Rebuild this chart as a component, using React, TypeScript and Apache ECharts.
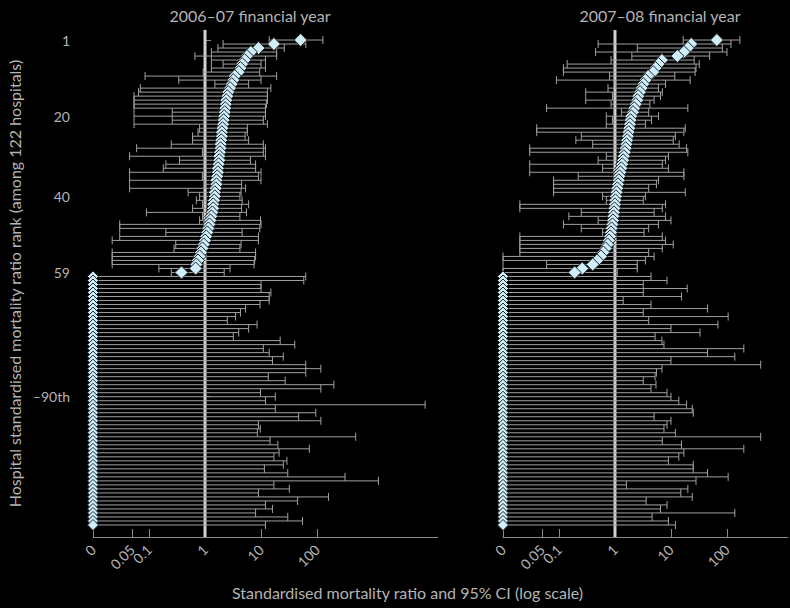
import * as echarts from "echarts";
import { useEffect, useRef } from "react";

// 2006-07 panel: ranks 1..59 have a positive SMR, the rest are 0
const smrL = [51, 17, 9, 6.6, 5.6, 5.1, 4.6, 4.3, 4.0, 3.4, 3.2, 3.0, 2.8, 2.6, 2.5, 2.4, 2.35, 2.3, 2.25, 2.2, 2.15, 2.1, 2.05, 2.0, 2.0, 1.95, 1.9, 1.9, 1.85, 1.8, 1.8, 1.75, 1.7, 1.7, 1.65, 1.6, 1.6, 1.55, 1.5, 1.5, 1.45, 1.4, 1.4, 1.35, 1.3, 1.25, 1.2, 1.15, 1.1, 1.05, 1.0, 0.95, 0.9, 0.85, 0.8, 0.75, 0.7, 0.68, 0.38];
const loL = [14, 2.1, 1.7, 1.3, 0.66, 1.3, 2.1, 1.3, 0.93, 0.085, 0.34, 1.5, 0.07, 0.065, 0.054, 0.054, 0.054, 0.054, 0.26, 0.054, 0.26, 0.054, 0.8, 0.75, 0.6, 0.6, 0.25, 0.06, 0.9, 0.045, 0.35, 0.2, 0.18, 0.045, 0.9, 0.045, 1.0, 0.045, 0.5, 0.8, 0.7, 0.9, 0.6, 0.09, 0.9, 0.8, 0.03, 0.03, 0.2, 0.03, 0.022, 0.3, 0.28, 0.022, 0.022, 0.022, 0.022, 0.15, 0.25];
const hiL = [127, 63, 26, 19, 19, 12, 10, 12, 9.5, 19, 10, 6, 15, 13, 13, 13, 12.5, 12, 12, 12, 11, 13, 5.7, 5.7, 5.2, 6, 11, 12, 11, 12, 6.5, 8, 8, 10, 9, 10, 4.5, 5.3, 4.4, 4.2, 4.6, 6, 4.5, 5.5, 4.2, 9.8, 10, 9.5, 4.6, 9, 9, 4.4, 4.2, 8, 8, 7.7, 7.5, 2.8, 2.2];
const hiL0 = [63, 58, 10, 10, 15, 14, 14, 9.6, 5.3, 4.3, 3.5, 2.5, 8.5, 6, 4, 3.2, 22, 40, 11, 14, 25, 16, 63, 117, 63, 13.5, 27, 200, 117, 9.8, 18, 12, 8500, 18, 95, 47, 117, 9, 9.7, 8.6, 490, 14.5, 20, 73, 21, 17, 29, 25, 11.5, 30, 316, 1250, 17, 32, 9, 160, 45, 12, 16, 8, 30, 55, 12];

// 2007-08 panel
const smrR = [66, 23, 20, 17, 13, 6.9, 6, 5.3, 4.8, 3.9, 3.5, 3.2, 3.0, 2.8, 2.6, 2.5, 2.35, 2.2, 2.1, 1.95, 1.9, 1.85, 1.8, 1.75, 1.7, 1.65, 1.6, 1.55, 1.5, 1.44, 1.4, 1.35, 1.3, 1.25, 1.2, 1.17, 1.13, 1.1, 1.07, 1.04, 1.02, 1.0, 0.98, 0.96, 0.94, 0.92, 0.9, 0.87, 0.85, 0.82, 0.78, 0.74, 0.68, 0.62, 0.56, 0.48, 0.4, 0.26, 0.19];
const loR = [16.5, 0.5, 2.5, 0.45, 2.0, 0.85, 0.14, 0.12, 0.12, 0.8, 0.09, 1.0, 0.75, 0.3, 0.9, 0.3, 0.85, 0.06, 1.3, 0.7, 0.9, 0.7, 0.04, 0.04, 0.25, 0.2, 0.4, 0.03, 0.03, 0.7, 0.5, 0.03, 0.6, 0.03, 0.22, 0.08, 0.08, 0.08, 0.08, 0.6, 0.7, 0.02, 0.02, 0.25, 0.15, 0.5, 0.12, 0.25, 0.6, 0.02, 0.02, 0.02, 0.02, 0.02, 0.01, 0.01, 0.06, 0.01, 0.01];
const hiR = [170, 118, 83, 100, 49, 26, 32, 28, 27, 11.7, 22, 8, 6, 7, 6.5, 5, 4.2, 20, 4, 6, 4.5, 3.5, 18, 17, 12, 11, 14, 19, 20, 9, 8, 7, 9, 17, 17, 6, 5.5, 4, 18, 3.5, 3.2, 8, 7, 5, 8, 10, 6, 4, 3.3, 7, 8, 11, 7, 4, 5, 3.5, 2.5, 2.5, 1.1];
const hiR0 = [4.4, 8.5, 3.2, 19.5, 3.2, 15.4, 1.4, 4.4, 45, 3.2, 105, 4, 69, 10, 33, 5.2, 6.9, 7.5, 200, 45, 138, 10, 400, 6.9, 5.5, 5.2, 3.2, 5.4, 4.4, 8.5, 10, 13.8, 19, 24, 25, 5, 10, 8.5, 7.5, 12, 400, 7, 15.4, 200, 17, 13.8, 9, 25, 25, 45, 105, 28, 1.6, 20, 15, 24, 3.6, 8.5, 6.5, 138, 4.6, 9, 12];

const rankTicks = [1, 20, 40, 59, 90];
const xTicks = [0, 0.05, 0.1, 1, 10, 100];
const titles = ["2006\u201307 financial year", "2007\u201308 financial year"];

const ZERO = 0.01; // where "0" sits on the log axis
const lg = (v: number) => Math.log10(Math.max(v, ZERO));
const FONT = "Lato";
const TXT = "#b4b4b4";

function panel(smr: number[], lo: number[], hi: number[], hi0: number[]) {
  const bars: number[][] = [];
  const pts: number[][] = [];
  const zeros: number[][] = [];
  smr.forEach((v, i) => {
    bars.push([lg(lo[i]), lg(hi[i]), i + 1]);
    pts.push([lg(v), i + 1]);
  });
  hi0.forEach((h, j) => {
    const r = smr.length + j + 1;
    bars.push([lg(0), lg(h), r]);
    zeros.push([lg(0), r]);
  });
  return { bars, pts, zeros };
}

function renderBar(params: any, api: any) {
  const r = api.value(2);
  const a = api.coord([api.value(0), r]);
  const b = api.coord([api.value(1), r]);
  const st = { stroke: "#a0a0a0", lineWidth: 1 };
  return {
    type: "group",
    children: [
      { type: "line", shape: { x1: a[0], y1: a[1], x2: b[0], y2: b[1] }, style: st },
      { type: "line", shape: { x1: a[0], y1: a[1] - 4, x2: a[0], y2: a[1] + 4 }, style: st },
      { type: "line", shape: { x1: b[0], y1: b[1] - 4, x2: b[0], y2: b[1] + 4 }, style: st },
    ],
  };
}

export default function App() {
  const ref = useRef<HTMLDivElement>(null);
  useEffect(() => {
    const chart = echarts.init(ref.current, null, { renderer: "svg" });
    const panels = [panel(smrL, loL, hiL, hiL0), panel(smrR, loR, hiR, hiR0)];
    const xMax = [4.16, 3.09];
    const series: any[] = [];
    panels.forEach((p, k) => {
      series.push({
        type: "line",
        xAxisIndex: k,
        yAxisIndex: k,
        data: [[0, -1.5], [0, 125]],
        symbol: "none",
        lineStyle: { color: "#d0d0d0", width: 3 },
        z: 1,
      });
      series.push({
        type: "custom",
        xAxisIndex: k,
        yAxisIndex: k,
        data: p.bars,
        renderItem: renderBar,
        z: 2,
      });
      series.push({
        type: "scatter",
        xAxisIndex: k,
        yAxisIndex: k,
        data: p.zeros,
        symbol: "diamond",
        symbolSize: 11,
        itemStyle: { color: "#cdeefa", borderColor: "#222", borderWidth: 1, opacity: 1 },
        z: 3,
      });
      series.push({
        type: "scatter",
        xAxisIndex: k,
        yAxisIndex: k,
        data: p.pts,
        symbol: "diamond",
        symbolSize: 13,
        itemStyle: { color: "#cdeefa", borderColor: "#222", borderWidth: 1, opacity: 1 },
        z: 4,
      });
    });

    chart.setOption({
      animation: false,
      backgroundColor: "#000",
      textStyle: { fontFamily: FONT },
      grid: [
        { left: 93, width: 345, top: 30, bottom: 71 },
        { left: 503, width: 285, top: 30, bottom: 71 },
      ],
      title: titles.map((t, k) => ({
        text: t,
        left: k === 0 ? 245 : 655,
        textAlign: "center",
        top: 2,
        textStyle: { color: TXT, fontSize: 16, fontWeight: "normal", fontFamily: FONT },
      })),
      xAxis: [0, 1].map((k) => ({
        type: "value",
        gridIndex: k,
        min: -2,
        max: xMax[k],
        splitLine: { show: false },
        axisLine: { onZero: false, lineStyle: { color: "#8a8a8a" } },
        axisTick: {
          inside: true,
          length: 8,
          lineStyle: { color: "#8a8a8a" },
          customValues: xTicks.map(lg),
        },
        axisLabel: {
          customValues: xTicks.map(lg),
          rotate: 45,
          color: TXT,
          fontSize: 14,
          margin: 10,
          formatter: (v: number) => {
            const i = xTicks.map(lg).findIndex((t) => Math.abs(t - v) < 1e-6);
            return i < 0 ? "" : String(xTicks[i]);
          },
        },
      })),
      yAxis: [0, 1].map((k) => ({
        type: "value",
        gridIndex: k,
        inverse: true,
        min: -1.5,
        max: 125,
        show: k === 0,
        offset: 9,
        splitLine: { show: false },
        axisLine: { show: true, lineStyle: { color: "#8a8a8a" } },
        axisTick: { inside: true, length: 6, lineStyle: { color: "#8a8a8a" }, customValues: rankTicks },
        axisLabel: {
          customValues: rankTicks,
          color: TXT,
          fontSize: 14,
          margin: 14,
          formatter: (v: number) => (v === 90 ? "\u201390th" : String(v)),
        },
        name: k === 0 ? "Hospital standardised mortality ratio rank (among 122 hospitals)" : "",
        nameLocation: "middle",
        nameRotate: 90,
        nameGap: 62,
        nameTextStyle: { color: TXT, fontSize: 16, fontFamily: FONT },
      })),
      graphic: [
        {
          type: "text",
          left: 232,
          top: 584,
          style: {
            text: "Standardised mortality ratio and 95% CI (log scale)",
            fill: TXT,
            font: `16px ${FONT}`,
          },
        },
      ],
      series,
    });
    return () => chart.dispose();
  }, []);

  return (
    <div
      ref={ref}
      style={{ position: "absolute", left: 0, top: 0, width: 790, height: 608, background: "#000" }}
    />
  );
}
